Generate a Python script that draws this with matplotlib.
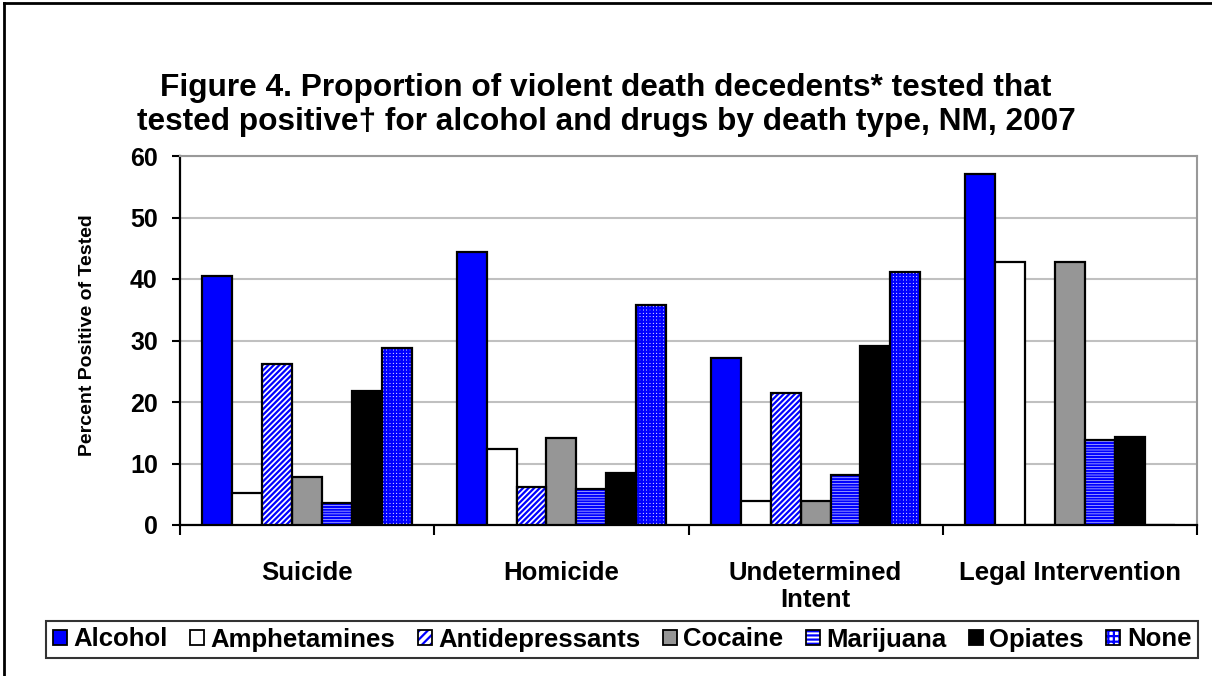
import matplotlib
matplotlib.use("Agg")
import matplotlib.pyplot as plt
from matplotlib.patches import Patch
from matplotlib.lines import Line2D
from matplotlib.transforms import blended_transform_factory
import numpy as np

plt.rcParams['font.family'] = ['Liberation Sans', 'DejaVu Sans']
plt.rcParams['font.weight'] = 'bold'
plt.rcParams['hatch.linewidth'] = 1.6

categories = ["Suicide", "Homicide", "Undetermined\nIntent", "Legal Intervention"]
series = ["Alcohol", "Amphetamines", "Antidepressants", "Cocaine", "Marijuana", "Opiates", "None"]
alcohol = [40.5, 44.4, 27.2, 57.1]
amphetamines = [5.2, 12.3, 3.9, 42.7]
antidepressants = [26.2, 6.1, 21.4, 0]
cocaine = [7.8, 14.2, 3.9, 42.7]
marijuana = [3.6, 5.8, 8.1, 13.9]
opiates = [21.8, 8.5, 29.1, 14.3]
none_ = [28.8, 35.7, 41.1, 0]
values = [alcohol, amphetamines, antidepressants, cocaine, marijuana, opiates, none_]
yticks = [0, 10, 20, 30, 40, 50, 60]

BLUE = '#0000ff'
styles = [
    dict(fc=BLUE, hatch=None, hc=None),
    dict(fc='white', hatch=None, hc=None),
    dict(fc='white', hatch='//////', hc=BLUE),
    dict(fc='#969696', hatch=None, hc=None),
    dict(fc='white', hatch='------', hc=BLUE),
    dict(fc='black', hatch=None, hc=None),
    dict(fc='white', hatch='+++++', hc=BLUE),
]

fig = plt.figure(figsize=(12.12, 6.76), dpi=100)
ax = fig.add_axes([180/1212, 1-525/676, 1017/1212, 369/676])

n = len(series)
bw = 1.0 / (n + 1.5)
x = np.arange(len(categories))
for i, (vals, st) in enumerate(zip(values, styles)):
    pos = x + (i - (n - 1) / 2) * bw
    if st['hatch']:
        ax.bar(pos, vals, bw, color=st['fc'], edgecolor=st['hc'], hatch=st['hatch'],
               linewidth=0, zorder=3)
        ax.bar(pos, vals, bw, fill=False, edgecolor='black', linewidth=1.6, zorder=4)
    else:
        ax.bar(pos, vals, bw, color=st['fc'], edgecolor='black', linewidth=1.6, zorder=3)

ax.set_xlim(-0.5, len(categories) - 0.5)
ax.set_ylim(0, 60)
ax.set_yticks(yticks)
ax.set_yticklabels([str(t) for t in yticks], fontsize=18, fontweight='bold')
ax.yaxis.grid(True, color='#c0c0c0', linewidth=1.5, zorder=0)
ax.set_axisbelow(True)
ax.set_xticks(np.arange(len(categories) + 1) - 0.5)
ax.set_xticklabels([])
ax.tick_params(axis='x', direction='out', length=7, width=1.5, color='black')
ax.tick_params(axis='y', direction='out', length=6, width=1.5, color='black', pad=10)
trans = blended_transform_factory(ax.transData, ax.transAxes)
for c, lab in enumerate(categories):
    ax.text(c, -0.097, lab, ha='center', va='top', fontsize=18.5, fontweight='bold',
            linespacing=1.15, transform=trans)
for s in ['left', 'bottom']:
    ax.spines[s].set_color('black')
    ax.spines[s].set_linewidth(1.6)
for s in ['top', 'right']:
    ax.spines[s].set_color('#999999')
    ax.spines[s].set_linewidth(1.5)

fig.text(88/1212, 1-335/676, "Percent Positive of Tested", rotation=90,
         ha='center', va='center', fontsize=14, fontweight='bold')

fig.text(0.5, 1-88/676, "Figure 4. Proportion of violent death decedents* tested that",
         ha='center', va='center', fontsize=22.8, fontweight='bold')
fig.text(0.5, 1-122/676, "tested positive\u2020 for alcohol and drugs by death type, NM, 2007",
         ha='center', va='center', fontsize=22.8, fontweight='bold')

handles = []
for st in styles:
    if st['hatch']:
        handles.append((Patch(facecolor=st['fc'], edgecolor=st['hc'], hatch='+++' if '+' in st['hatch'] else st['hatch'][:4], linewidth=0),
                        Patch(fill=False, edgecolor='black', linewidth=1.3)))
    else:
        handles.append(Patch(facecolor=st['fc'], edgecolor='black', linewidth=1.3))
leg = fig.legend(handles, series, loc='center', ncol=7,
                 bbox_to_anchor=(622/1212, 1-639.5/676),
                 prop=dict(size=18.5, weight='bold'), handlelength=0.55, handleheight=0.55,
                 handletextpad=0.25, columnspacing=0.87, borderaxespad=0, frameon=True,
                 fancybox=False, borderpad=0.25)
leg.get_frame().set_edgecolor('black')
leg.get_frame().set_linewidth(1.5)

# outer border (left and top visible)
fig.add_artist(Line2D([4/1212, 4/1212], [0, 1-3/676], transform=fig.transFigure, color='black', lw=2))
fig.add_artist(Line2D([4/1212, 1], [1-3/676, 1-3/676], transform=fig.transFigure, color='black', lw=2))

fig.savefig("out.png", dpi=100)
